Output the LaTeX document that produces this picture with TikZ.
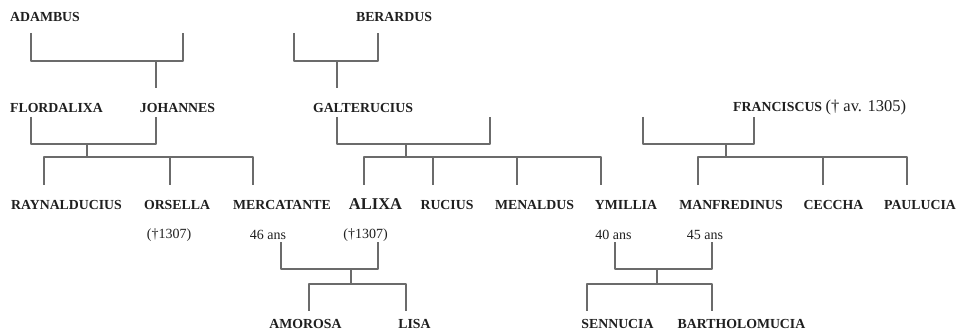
\documentclass[tikz,border=0pt]{standalone}
\usepackage{fontspec}
\setmainfont{Liberation Serif}
\begin{document}
\begin{tikzpicture}[x=1pt,y=-1pt,
  nm/.style={font=\bfseries\fontsize{13.8}{16}\selectfont,text=black!88,inner sep=0pt},
  big/.style={font=\bfseries\fontsize{16.5}{18}\selectfont,text=black!88,inner sep=0pt},
  nt/.style={font=\fontsize{14}{16}\selectfont,text=black!88,inner sep=0pt},
  ln/.style={draw=black!58,line width=1.3pt,line join=round}]
\useasboundingbox[fill=white] (0,0) rectangle (960,331);

% ---- names
\node[nm] (adambus) at (45,17) {ADAMBUS};
\node[nm] (berardus) at (394,17) {BERARDUS};
\node[nm] (flordalixa) at (56.5,108) {FLORDALIXA};
\node[nm] (johannes) at (177.5,108) {JOHANNES};
\node[nm] (galterucius) at (363,108) {GALTERUCIUS};
\node[nm,anchor=west] (franciscus) at (733,108) {FRANCISCUS {\mdseries\fontsize{16.5}{18}\selectfont(\textdagger\ av. 1305)}};

\node[nm] (raynalducius) at (66.5,205) {RAYNALDUCIUS};
\node[nm] (orsella) at (177,205) {ORSELLA};
\node[nm] (mercatante) at (282,205) {MERCATANTE};
\node[big] (alixa) at (375.5,204) {ALIXA};
\node[nm] (rucius) at (447,205) {RUCIUS};
\node[nm] (menaldus) at (534.5,205) {MENALDUS};
\node[nm] (ymillia) at (626,205) {YMILLIA};
\node[nm] (manfredinus) at (731,205) {MANFREDINUS};
\node[nm] (ceccha) at (833.5,205) {CECCHA};
\node[nm] (paulucia) at (920,205) {PAULUCIA};

\node[nt] (orsd) at (169,235) {(\textdagger1307)};
\node[nt] (merca) at (268,235) {46 ans};
\node[nt] (alixd) at (365.5,235) {(\textdagger1307)};
\node[nt] (ymia) at (613.5,235) {40 ans};
\node[nt] (manfa) at (705,235) {45 ans};

\node[nm] (amorosa) at (305.5,324) {AMOROSA};
\node[nm] (lisa) at (414.5,324) {LISA};
\node[nm] (sennucia) at (617.5,324) {SENNUCIA};
\node[nm] (bartholomucia) at (741.5,324) {BARTHOLOMUCIA};

% ---- couple Adambus
\coordinate (a1) at (31,33); \coordinate (a2) at (183,33);
\coordinate (ah) at (156,61); \coordinate (ad) at (156,88);
\draw[ln] (a1) |- (ah) -| (a2);
\draw[ln] (ah) -- (ad);

% ---- couple Berardus
\coordinate (b1) at (294,33); \coordinate (b2) at (378,33);
\coordinate (bh) at (337,61); \coordinate (bd) at (337,88);
\draw[ln] (b1) |- (bh) -| (b2);
\draw[ln] (bh) -- (bd);

% ---- Flordalixa + Johannes
\coordinate (c1) at (31,117); \coordinate (c2) at (156,117);
\coordinate (ch) at (87,144); \coordinate (cd) at (87,157);
\draw[ln] (c1) |- (ch) -| (c2);
\draw[ln] (ch) -- (cd);
\coordinate (kr) at (44,185); \coordinate (ko) at (170,185); \coordinate (km) at (253,185);
\draw[ln] (cd) -| (kr);
\draw[ln] (cd) -| (ko);
\draw[ln] (cd) -| (km);

% ---- Galterucius
\coordinate (d1) at (337,117); \coordinate (d2) at (490,117);
\coordinate (dh) at (406,144); \coordinate (dd) at (406,157);
\draw[ln] (d1) |- (dh) -| (d2);
\draw[ln] (dh) -- (dd);
\coordinate (ka) at (364,185); \coordinate (kru) at (433,185);
\coordinate (kme) at (517,185); \coordinate (ky) at (601,185);
\draw[ln] (dd) -| (ka);
\draw[ln] (dd) -| (kru);
\draw[ln] (dd) -| (kme);
\draw[ln] (dd) -| (ky);

% ---- Franciscus
\coordinate (e1) at (643,117); \coordinate (e2) at (754,117);
\coordinate (eh) at (726,144); \coordinate (ed) at (726,157);
\draw[ln] (e1) |- (eh) -| (e2);
\draw[ln] (eh) -- (ed);
\coordinate (kma) at (698,185); \coordinate (kc) at (823,185); \coordinate (kp) at (907,185);
\draw[ln] (ed) -| (kma);
\draw[ln] (ed) -| (kc);
\draw[ln] (ed) -| (kp);

% ---- Mercatante + Alixa
\coordinate (f1) at (281,242); \coordinate (f2) at (378,242);
\coordinate (fh) at (351,269); \coordinate (fd) at (351,284);
\draw[ln] (f1) |- (fh) -| (f2);
\draw[ln] (fh) -- (fd);
\coordinate (kam) at (309,311); \coordinate (kl) at (406,311);
\draw[ln] (fd) -| (kam);
\draw[ln] (fd) -| (kl);

% ---- Ymillia + Manfredinus
\coordinate (g1) at (615,242); \coordinate (g2) at (712,242);
\coordinate (gh) at (657,269); \coordinate (gd) at (657,284);
\draw[ln] (g1) |- (gh) -| (g2);
\draw[ln] (gh) -- (gd);
\coordinate (ks) at (587,311); \coordinate (kb) at (712,311);
\draw[ln] (gd) -| (ks);
\draw[ln] (gd) -| (kb);
\end{tikzpicture}
\end{document}
